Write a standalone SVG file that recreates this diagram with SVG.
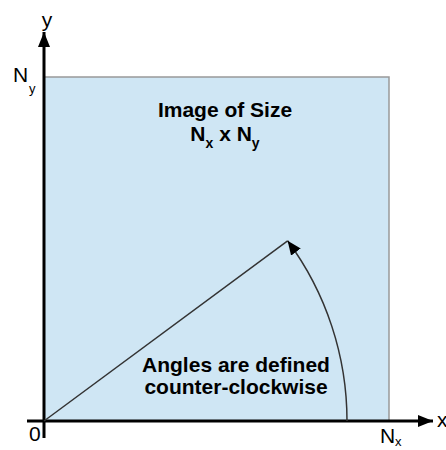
<svg xmlns="http://www.w3.org/2000/svg" width="446" height="450" viewBox="0 0 446 450">
<style>
.lbl{font-family:"Liberation Sans",Arial,sans-serif;fill:#000;}
.big{font-size:21px;font-weight:bold;}
.reg{font-size:21px;}
.sub{font-size:13px;}
.subb{font-size:14px;font-weight:bold;}
.axis{stroke:#000;stroke-width:3;fill:none;}
.thin{stroke:#333;stroke-width:1.5;fill:none;}
</style>
<defs>
<marker id="ah" markerUnits="userSpaceOnUse" markerWidth="16" markerHeight="12" refX="15" refY="6" orient="auto">
<path d="M0,0 L15,6 L0,12 Z" fill="#000"/>
</marker>
<marker id="ah2" markerUnits="userSpaceOnUse" markerWidth="16" markerHeight="12" refX="14" refY="6" orient="auto">
<path d="M0,0 L14,6 L0,12 Z" fill="#000"/>
</marker>
</defs>
<g id="image">
<rect x="44" y="77" width="345" height="344" fill="#cfe6f4" stroke="#999" stroke-width="1.5"/>
<text class="lbl big" x="225" y="117" text-anchor="middle">Image of Size</text>
<text class="lbl big" x="225" y="141" text-anchor="middle">N<tspan class="subb" dy="7">x</tspan><tspan dy="-7"> x N</tspan><tspan class="subb" dy="7">y</tspan></text>
</g>
<g id="connectors">
<line class="axis" x1="27" y1="421" x2="433" y2="421" marker-end="url(#ah)"/>
<line class="axis" x1="44" y1="438" x2="44" y2="32" marker-end="url(#ah)"/>
<line class="thin" x1="44" y1="421" x2="287.6" y2="240.8"/>
<path class="thin" d="M347,421 A303,303 0 0 0 287.6,240.8" marker-end="url(#ah2)"/>
</g>
<g id="labels">
<text class="lbl reg" x="47" y="27" text-anchor="middle">y</text>
<text class="lbl reg" x="437" y="427">x</text>
<text class="lbl reg" x="13" y="82">N</text>
<text class="lbl sub" x="29" y="93">y</text>
<text class="lbl reg" x="29" y="441">0</text>
<text class="lbl reg" x="380" y="443">N</text>
<text class="lbl sub" x="395" y="446">x</text>
</g>
<g id="angle-note">
<text class="lbl big" x="236" y="372" text-anchor="middle">Angles are defined</text>
<text class="lbl big" x="236" y="394" text-anchor="middle">counter-clockwise</text>
</g>
</svg>
